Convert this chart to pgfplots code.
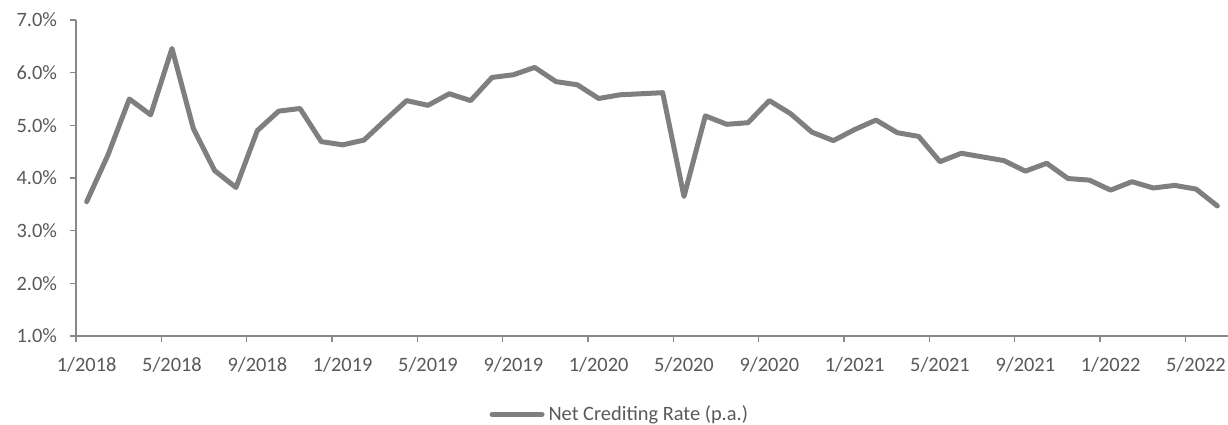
\documentclass[border=0pt]{standalone}
\usepackage{pgfplots}
\pgfplotsset{compat=1.18}
\usepackage{fontspec}
\setmainfont{Carlito}
\definecolor{linegray}{HTML}{7F7F7F}
\definecolor{axisgray}{HTML}{888888}
\definecolor{textgray}{HTML}{595959}
\begin{document}
\fontsize{10}{12}\selectfont
\begin{tikzpicture}
\begin{axis}[
  at={(0,0)}, anchor=south west,
  scale only axis, width=576pt, height=158pt,
  xmin=-0.5, xmax=53.5, ymin=1, ymax=7,
  axis x line=bottom, axis y line=left,
  axis line style={-, axisgray, line width=0.8pt},
  tick style={axisgray, line width=0.8pt},
  tick align=outside,
  xtick={0,4,...,52},
  xticklabels={1/2018,5/2018,9/2018,1/2019,5/2019,9/2019,1/2020,5/2020,9/2020,1/2021,5/2021,9/2021,1/2022,5/2022},
  major x tick style={draw=none},
  minor xtick={-0.5,3.5,...,51.5},
  minor tick length=3pt,
  major tick length=3pt,
  ytick={1,2,...,7},
  yticklabel={\pgfmathprintnumber[fixed,fixed zerofill,precision=1]{\tick}\%},
  /pgf/number format/assume math mode=true,
  ticklabel style={font=\fontsize{10.2}{12}\selectfont, text=textgray},
  xticklabel style={yshift=-4pt},
  yticklabel style={xshift=-3pt},
  clip=false,
  legend style={draw=none, fill=none, inner sep=0pt, outer sep=0pt,
    at={(axis description cs:0.359,-0.248)}, anchor=west,
    font=\fontsize{10.2}{12}\selectfont, text=textgray},
  legend image code/.code={\draw[#1, line cap=round] (0pt,0pt) -- (25pt,0pt);},
]
\addplot[linegray, line width=2.5pt, line join=round, line cap=round] coordinates {
(0,3.55) (1,4.44) (2,5.50) (3,5.20) (4,6.46) (5,4.94) (6,4.14) (7,3.82)
(8,4.90) (9,5.27) (10,5.32) (11,4.69) (12,4.63) (13,4.72) (14,5.10) (15,5.47)
(16,5.38) (17,5.60) (18,5.47) (19,5.91) (20,5.96) (21,6.10) (22,5.83) (23,5.77)
(24,5.51) (25,5.58) (26,5.60) (27,5.62) (28,3.65) (29,5.18) (30,5.02) (31,5.05)
(32,5.47) (33,5.22) (34,4.87) (35,4.71) (36,4.92) (37,5.10) (38,4.86) (39,4.79)
(40,4.31) (41,4.47) (42,4.40) (43,4.33) (44,4.13) (45,4.28) (46,3.99) (47,3.96)
(48,3.77) (49,3.93) (50,3.81) (51,3.86) (52,3.79) (53,3.47)
};
\addlegendentry{Net Crediting Rate (p.a.)}
\end{axis}
\pgfresetboundingbox
\useasboundingbox (-38pt,-44pt) rectangle (576pt,168pt);
\end{tikzpicture}
\end{document}
